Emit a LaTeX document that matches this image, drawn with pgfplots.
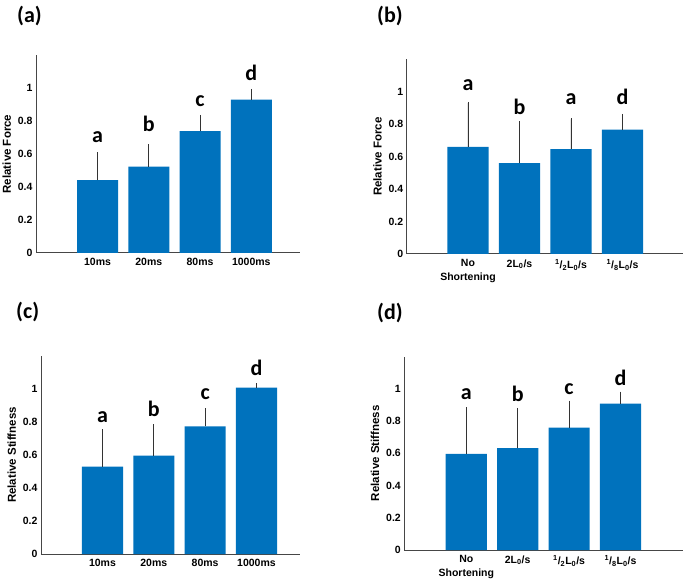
\documentclass[border=0pt]{standalone}
\usepackage{pgfplots}
\pgfplotsset{compat=1.18}
\usepackage{pgfplotstable}
\usepackage{fontspec}
\setmainfont{Liberation Sans}
\newfontfamily\calibri{Carlito}
\definecolor{mblue}{RGB}{0,114,189}
\definecolor{axgray}{RGB}{70,70,70}

\pgfplotstableread{
x y e
1 0.441 0.161
2 0.524 0.129
3 0.739 0.091
4 0.930 0.057
}\dataA
\pgfplotstableread{
x y e
1 0.660 0.270
2 0.560 0.250
3 0.646 0.184
4 0.767 0.089
}\dataB
\pgfplotstableread{
x y e
1 0.530 0.220
2 0.596 0.184
3 0.774 0.103
4 1.008 0.020
}\dataC
\pgfplotstableread{
x y e
1 0.597 0.281
2 0.632 0.243
3 0.760 0.160
4 0.909 0.066
}\dataD

\pgfplotsset{
  panel/.style={
    scale only axis,
    anchor=south west,
    axis lines=left,
    axis line style={-, axgray, line width=1bp},
    ymin=0, ymax=1.2,
    ytick={0,0.2,0.4,0.6,0.8,1},
    xtick={1,2,3,4},
    major tick length=0pt,
    /pgf/number format/assume math mode=true,
    tick label style={font=\fontsize{10.5bp}{14bp}\selectfont\bfseries, text=black},
    xticklabel style={align=center, yshift=-2bp},
    ylabel style={font=\fontsize{11.5bp}{13bp}\selectfont\bfseries},
    clip=false,
  },
  barplot/.style={
    ybar, bar width=0.8, fill=mblue, draw=none,
    error bars/.cd, y dir=plus, y explicit,
    error mark=-, error mark options={mark size=1.2bp, line width=0.8bp, black!80},
    error bar style={line width=0.8bp, black!80},
  },
}
\newcommand{\letter}[2]{\node[font=\fontsize{22bp}{24bp}\selectfont\calibri\bfseries] at (axis cs:#1) {#2};}
\newcommand{\plabel}[2]{\node[anchor=west, inner sep=0pt, font=\fontsize{22bp}{24bp}\selectfont\calibri\bfseries] at (#1) {#2};}

\begin{document}
\begin{tikzpicture}
\useasboundingbox (0,0) rectangle (685bp,583bp);

% (a)
\begin{axis}[panel, at={(36bp,330bp)}, width=264bp, height=198bp,
  xmin=-0.2, xmax=4.95, ylabel={Relative Force},
  xticklabels={10ms,20ms,80ms,1000ms}]
\addplot[barplot] table[x=x,y=y,y error=e]{\dataA};
\letter{1,0.70}{a}
\letter{2,0.78}{b}
\letter{3,0.92}{c}
\letter{4,1.09}{d}
\end{axis}

% (b)
\begin{axis}[panel, at={(406.7bp,329bp)}, width=276.3bp, height=194.7bp,
  xmin=-0.19, xmax=5.175, ylabel={Relative Force},
  xticklabels={No\\Shortening,2L\textsubscript{0}/s,\textsuperscript{1}/\textsubscript{2}L\textsubscript{0}/s,\textsuperscript{1}/\textsubscript{8}L\textsubscript{0}/s}]
\addplot[barplot] table[x=x,y=y,y error=e]{\dataB};
\letter{1,1.04}{a}
\letter{2,0.905}{b}
\letter{3,0.957}{a}
\letter{4,0.97}{d}
\end{axis}

% (c)
\begin{axis}[panel, at={(41bp,29bp)}, width=259bp, height=198bp,
  xmin=-0.198, xmax=4.848, ylabel={Relative Stiffness},
  xticklabels={10ms,20ms,80ms,1000ms}]
\addplot[barplot] table[x=x,y=y,y error=e]{\dataC};
\letter{1,0.83}{a}
\letter{2,0.88}{b}
\letter{3,0.97}{c}
\letter{4,1.13}{d}
\end{axis}

% (d)
\begin{axis}[panel, at={(404.3bp,33bp)}, width=278.7bp, height=193.3bp,
  xmin=-0.206, xmax=5.216, ylabel={Relative Stiffness},
  xticklabels={No\\Shortening,2L\textsubscript{0}/s,\textsuperscript{1}/\textsubscript{2}L\textsubscript{0}/s,\textsuperscript{1}/\textsubscript{8}L\textsubscript{0}/s}]
\addplot[barplot] table[x=x,y=y,y error=e]{\dataD};
\letter{1,0.967}{a}
\letter{2,0.97}{b}
\letter{3,1.0}{c}
\letter{4,1.07}{d}
\end{axis}

\plabel{17bp,567bp}{(a)}
\plabel{377bp,567bp}{(b)}
\plabel{16bp,271bp}{(c)}
\plabel{377bp,270bp}{(d)}
\end{tikzpicture}
\end{document}
